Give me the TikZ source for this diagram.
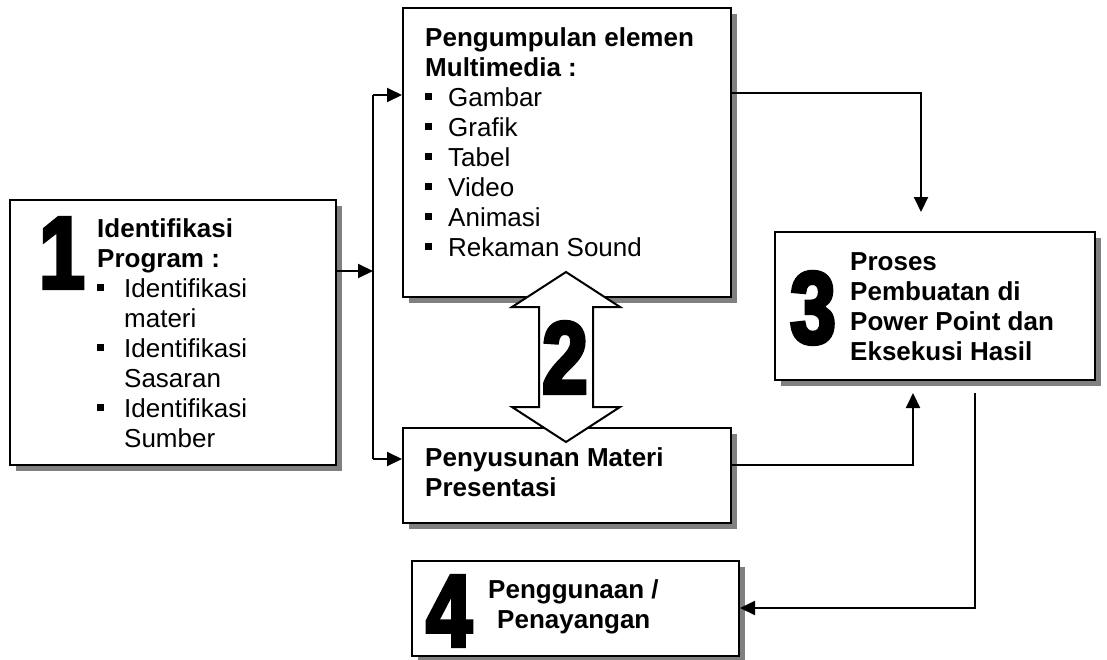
\documentclass[tikz,border=0pt]{standalone}
\usepackage{fontspec}
\setmainfont{Liberation Sans}
\newfontfamily\numfont[FakeStretch=0.8,FakeBold=4]{Liberation Sans}
\usetikzlibrary{arrows.meta,shadows}
\definecolor{shade}{HTML}{808080}
\tikzset{
  box/.style={draw=black, line width=2pt, fill=white, rectangle, inner sep=0pt,
    drop shadow={shadow xshift=6pt, shadow yshift=-6pt, fill=shade, opacity=1}},
  txt/.style={anchor=north west, inner sep=0pt, font=\fontsize{26}{30}\selectfont},
  num/.style={anchor=base, inner sep=0pt, font=\numfont\bfseries\fontsize{102}{102}\selectfont},
  link/.style={line width=2pt, -{Triangle[length=15pt,width=14pt]}},
  plain/.style={line width=2pt},
}
\newcommand\bul[1]{\makebox[#1][l]{\rule[6pt]{7pt}{7pt}}}
\begin{document}
\begin{tikzpicture}[x=1pt,y=-1pt]
\useasboundingbox (0,0) rectangle (1107,659);

% boxes
\node[box, minimum width=326pt, minimum height=265pt] (b1) at (173,332.5) {};
\node[box, minimum width=328pt, minimum height=289pt] (b2) at (567,152.5) {};
\node[box, minimum width=328pt, minimum height=95pt]  (bP) at (567,475.5) {};
\node[box, minimum width=320pt, minimum height=148pt] (b3) at (935,306) {};
\node[box, minimum width=327pt, minimum height=95pt]  (b4) at (575.5,608.5) {};

% texts
\node[txt] (t1) at (97,216) {\parbox[t]{235pt}{\strut\textbf{Identifikasi}\\
  \textbf{Program :}\\
  \bul{27pt}Identifikasi\\
  \hspace*{27pt}materi\\
  \bul{27pt}Identifikasi\\
  \hspace*{27pt}Sasaran\\
  \bul{27pt}Identifikasi\\
  \hspace*{27pt}Sumber}};
\node[txt] (t2) at (425,25) {\parbox[t]{300pt}{\strut\textbf{Pengumpulan elemen}\\
  \textbf{Multimedia :}\\
  \bul{23pt}Gambar\\
  \bul{23pt}Grafik\\
  \bul{23pt}Tabel\\
  \bul{23pt}Video\\
  \bul{23pt}Animasi\\
  \bul{23pt}Rekaman Sound}};
\node[txt] (tP) at (425,445) {\parbox[t]{300pt}{\strut\textbf{Penyusunan Materi}\\
  \textbf{Presentasi}}};
\node[txt] (t3) at (850,249) {\parbox[t]{240pt}{\strut\textbf{Proses}\\
  \textbf{Pembuatan di}\\
  \textbf{Power Point dan}\\
  \textbf{Eksekusi Hasil}}};
\node[txt] (t4) at (488,577) {\parbox[t]{240pt}{\strut\textbf{Penggunaan /}\\
  \hspace*{9pt}\textbf{Penayangan}}};

% step numbers
\node[num] (n1) at (62,288) {1};
\node[num] (n3) at (813,343) {3};
\node[num] (n4) at (449,646) {4};

% double arrow between the two middle boxes
\draw[plain, fill=white, miter limit=10]
  (566,272) -- (620,307) -- (593,307) -- (593,407) -- (620,407) -- (566,442)
  -- (512,407) -- (539,407) -- (539,307) -- (512,307) -- cycle;
\node[num] (n2) at (565,393) {2};

% connectors
\coordinate (fork) at (373,271);
\coordinate (ftop) at (373,95);
\coordinate (fbot) at (373,459);
\draw[link] (b1.east |- fork) -- (fork);
\draw[plain] (ftop) -- (fbot);
\draw[link] (ftop) -- (b2.west |- ftop);
\draw[link] (fbot) -- (bP.west |- fbot);

\coordinate (r2) at (921,93);
\coordinate (in3a) at (921,212);
\draw[link] (b2.east |- r2) -- (r2) -- (in3a);

\coordinate (r5) at (913,465);
\coordinate (in3b) at (913,393);
\draw[link] (bP.east |- r5) -- (r5) -- (in3b);

\coordinate (out3) at (975,393);
\coordinate (r4) at (975,608);
\draw[link] (out3) -- (r4) -- (b4.east |- r4);
\end{tikzpicture}
\end{document}
